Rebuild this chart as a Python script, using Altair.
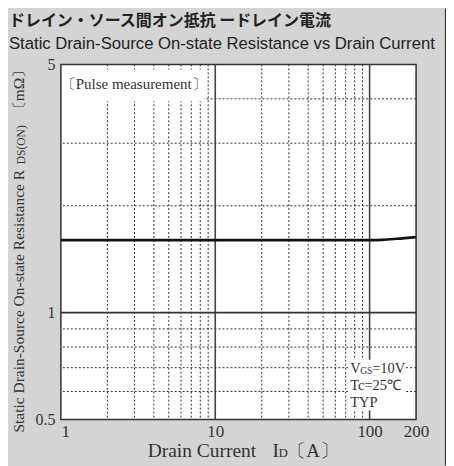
import altair as alt
import pandas as pd

# ---- data ----
current = [1, 2, 5, 10, 20, 50, 100, 120, 150, 200]
resistance = [1.6, 1.6, 1.6, 1.6, 1.6, 1.6, 1.6, 1.603, 1.614, 1.632]

x_minor = [2, 3, 4, 5, 6, 7, 8, 9, 20, 30, 40, 50, 60, 70, 80, 90]
x_major = [10, 100]
y_minor = [0.6, 0.7, 0.8, 0.9, 2, 3, 4]
y_major = [1]
x_ticks = [1, 10, 100, 200]
y_ticks = [0.5, 1, 5]

title_jp = "ドレイン・ソース間オン抵抗 ードレイン電流"
title_en = "Static Drain-Source On-state Resistance vs Drain Current"

SERIF = "Liberation Serif"
W, H = 356, 356

xs = alt.Scale(type="log", domain=[1, 200], nice=False)
ys = alt.Scale(type="log", domain=[0.5, 5], nice=False)

curve_df = pd.DataFrame({"I": current, "R": resistance})
one = pd.DataFrame({"k": [0]})

xaxis = alt.Axis(values=x_ticks, ticks=False, domain=False, grid=False, title=None,
                 labelFont=SERIF, labelFontSize=17, labelColor="#333", labelPadding=4,
                 labelFlush=False,
                 labelAlign={"condition": {"test": "datum.value == 1", "value": "left"},
                             "value": "center"},
                 labelExpr="format(datum.value, 'd')")
yaxis = alt.Axis(values=y_ticks, ticks=False, domain=False, grid=False, title=None,
                 labelFont=SERIF, labelFontSize=16, labelColor="#333", labelPadding=6,
                 labelExpr="datum.value == 0.5 ? '0.5' : format(datum.value, 'd')")

vminor = alt.Chart(pd.DataFrame({"I": x_minor})).mark_rule(
    color="#333", strokeWidth=1, strokeDash=[2, 2]).encode(
    x=alt.X("I:Q", scale=xs, axis=xaxis))
hminor = alt.Chart(pd.DataFrame({"R": y_minor})).mark_rule(
    color="#333", strokeWidth=1, strokeDash=[2, 2]).encode(
    y=alt.Y("R:Q", scale=ys, axis=yaxis))
vmajor = alt.Chart(pd.DataFrame({"I": x_major})).mark_rule(
    color="#444", strokeWidth=1.6).encode(x=alt.X("I:Q", scale=xs))
hmajor = alt.Chart(pd.DataFrame({"R": y_major})).mark_rule(
    color="#333", strokeWidth=1.6).encode(y=alt.Y("R:Q", scale=ys))

line = alt.Chart(curve_df).mark_line(
    color="#111", strokeWidth=2.6, interpolate="monotone").encode(
    x=alt.X("I:Q", scale=xs), y=alt.Y("R:Q", scale=ys))

base = alt.Chart(one)

# white boxes behind annotations
box1 = base.mark_rect(color="white").encode(
    x=alt.value(2), x2=alt.value(144), y=alt.value(5), y2=alt.value(37))
box2 = base.mark_rect(color="white").encode(
    x=alt.value(288), x2=alt.value(344), y=alt.value(296), y2=alt.value(347))

def txt(s, x, y, size=15, font=SERIF, align="left", baseline="middle",
        weight="normal", angle=0, color="#333"):
    kw = dict(text=s, align=align, baseline=baseline, font=font, fontSize=size,
              fontWeight=weight, color=color)
    if angle:
        kw["angle"] = angle
    return base.mark_text(**kw).encode(x=alt.value(x), y=alt.value(y))

annots = [
    txt("〔Pulse measurement〕", 73, 20, size=15, align="center"),
    txt("V", 290, 309, size=14.5, baseline="alphabetic"),
    txt("GS", 300, 310, size=9.5, baseline="alphabetic"),
    txt("=10V", 312, 309, size=14.5, baseline="alphabetic"),
    txt("Tc=25℃", 290, 326, size=14.5, baseline="alphabetic"),
    txt("TYP", 290, 343, size=14.5, baseline="alphabetic"),
    # titles
    txt(title_jp, -52, -43, size=16, font="Noto Sans CJK JP", weight="bold",
        color="#222"),
    txt(title_en, -52, -20, size=16.7, font="Liberation Sans", color="#222"),
    # x axis title
    txt("Drain Current", 87, 394, size=19.5, baseline="alphabetic"),
    txt("I", 212, 394, size=19.5, baseline="alphabetic"),
    txt("D", 218, 394, size=13, baseline="alphabetic"),
    txt("〔A〕", 227, 394, size=19, baseline="alphabetic"),
    # y axis title (rotated)
    txt("Static Drain-Source On-state Resistance  R", -37, 369, size=15.5,
        baseline="alphabetic", angle=270),
    txt("DS(ON)", -36, 100, size=11.5, baseline="alphabetic", angle=270),
    txt("〔mΩ〕", -37, 52, size=15.5, baseline="alphabetic", angle=270),
]

frame_r = base.mark_rule(color="#333", strokeWidth=1.2).encode(
    x=alt.value(385.5), y=alt.value(-56), y2=alt.value(402))

chart = alt.layer(
    vminor, hminor, vmajor, hmajor, box1, box2, line, *annots, frame_r
).properties(
    width=W, height=H,
    autosize=alt.AutoSizeParams(type="none"),
    padding={"left": 53, "top": 56, "right": 30, "bottom": 46},
    background="#d4d4d4",
).configure_view(
    stroke="#333", strokeWidth=1.5, fill="white"
)

chart.save("out.html", embed_options={"renderer": "svg", "actions": False})
